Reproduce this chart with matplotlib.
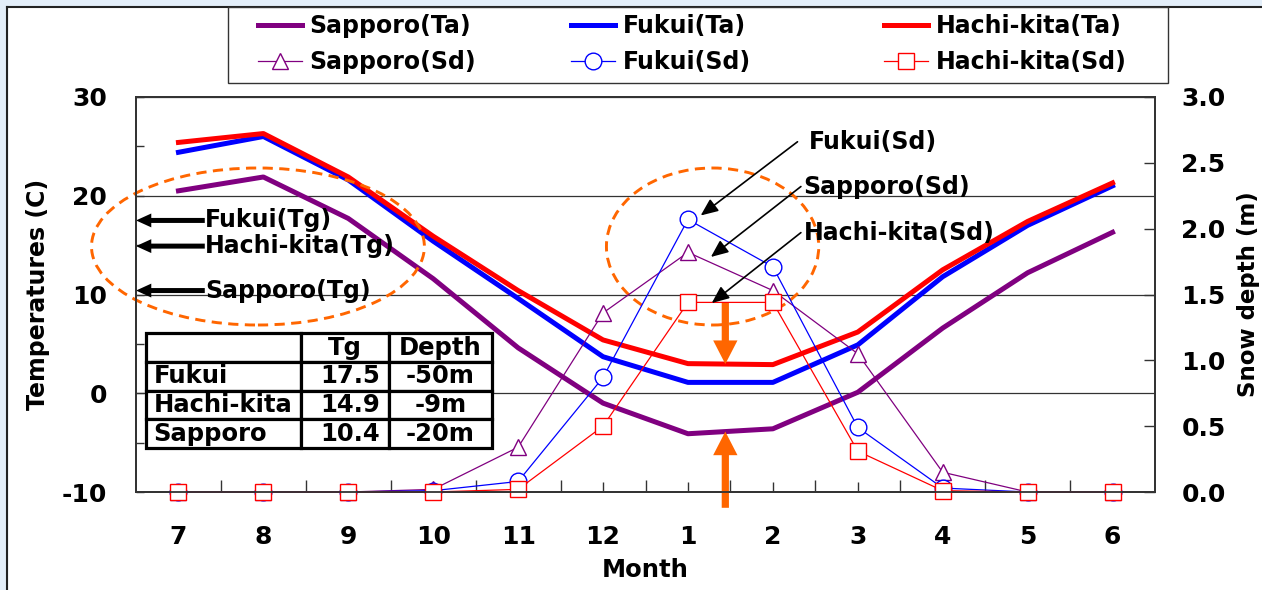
import matplotlib
matplotlib.use("Agg")
import matplotlib.pyplot as plt
from matplotlib.patches import Ellipse, Rectangle
from matplotlib.lines import Line2D
from matplotlib.table import Table
import numpy as np

plt.rcParams["font.family"] = ["DejaVu Sans"]
plt.rcParams["font.weight"] = "bold"
plt.rcParams["axes.labelweight"] = "bold"
plt.rcParams["axes.unicode_minus"] = False

# =========================
# DATA
# =========================

months = ["7", "8", "9", "10", "11", "12", "1", "2", "3", "4", "5", "6"]

sapporo_ta = [20.5, 21.9, 17.7, 11.6, 4.6, -1.0, -4.1, -3.6, 0.1, 6.6, 12.2, 16.3]
fukui_ta = [24.4, 26.0, 21.6, 15.4, 9.6, 3.7, 1.1, 1.1, 4.9, 11.8, 17.0, 21.0]
hachi_ta = [25.4, 26.3, 21.9, 15.9, 10.4, 5.4, 3.0, 2.9, 6.2, 12.5, 17.4, 21.3]

sapporo_sd = [0, 0, 0, 0.02, 0.34, 1.36, 1.82, 1.53, 1.05, 0.15, 0, 0]
fukui_sd = [0, 0, 0, 0.01, 0.08, 0.87, 2.07, 1.71, 0.49, 0.03, 0, 0]
hachi_sd = [0, 0, 0, 0, 0.02, 0.50, 1.44, 1.44, 0.31, 0.01, 0, 0]

sites = ["Fukui", "Hachi-kita", "Sapporo"]
tg = [17.5, 14.9, 10.4]
depth = ["-50m", "-9m", "-20m"]

PURPLE = "#800080"
BLUE = "#0000FF"
RED = "#FF0000"
ORANGE = "#FF6600"

# =========================
# FIGURE SETUP
# =========================

W, H = 1262, 590
fig = plt.figure(figsize=(W / 100, H / 100), dpi=100)
fig.patch.set_facecolor("white")

# slide background strips + border
fig.add_artist(Rectangle((0, 0), 7 / W, 1, transform=fig.transFigure,
                         color="#e3eef9", zorder=0))
fig.add_artist(Rectangle((0, 1 - 6 / H), 1, 6 / H, transform=fig.transFigure,
                         color="#e3eef9", zorder=0))
fig.add_artist(Line2D([7 / W, 1], [1 - 6.5 / H, 1 - 6.5 / H], transform=fig.transFigure,
                      color="#222222", lw=1.5, zorder=0.5))
fig.add_artist(Line2D([7 / W, 7 / W], [0, 1 - 6.5 / H], transform=fig.transFigure,
                      color="#222222", lw=1.5, zorder=0.5))

ax = fig.add_axes([136 / W, 1 - 492 / H, 1019 / W, 395 / H])
ax2 = ax.twinx()

x = np.arange(len(months))

# temperatures (left axis)
l_sap, = ax.plot(x, sapporo_ta, color=PURPLE, lw=3.6, label="Sapporo(Ta)")
l_fuk, = ax.plot(x, fukui_ta, color=BLUE, lw=3.6, label="Fukui(Ta)")
l_hac, = ax.plot(x, hachi_ta, color=RED, lw=3.6, label="Hachi-kita(Ta)")

# snow depth (right axis)
mk = dict(markersize=12, markerfacecolor="white", markeredgewidth=1.0, lw=0.9, clip_on=False)
m_sap, = ax2.plot(x, sapporo_sd, color=PURPLE, marker="^", label="Sapporo(Sd)", **mk)
m_fuk, = ax2.plot(x, fukui_sd, color=BLUE, marker="o", label="Fukui(Sd)", **mk)
m_hac, = ax2.plot(x, hachi_sd, color=RED, marker="s", label="Hachi-kita(Sd)", **mk)

# =========================
# AXES
# =========================

ax.set_xlim(-0.5, len(months) - 0.5)
ax.set_ylim(-10, 30)
ax2.set_ylim(0, 3)

ax.set_xticks(x)
ax.set_xticklabels(months)
ax.set_xticks(np.arange(0.5, len(months) - 1, 1), minor=True)
ax.tick_params(axis="x", which="major", length=0, pad=24, labelsize=18)
ax.tick_params(axis="x", which="minor", direction="in", length=9, width=1, color="#333333")

# short ticks of the hidden secondary category axis
sec = ax.secondary_xaxis("bottom")
sec.set_xticks([5, 6, 7, 8])
sec.tick_params(direction="in", length=7, width=1, color="#333333", labelbottom=False)
sec.spines["bottom"].set_visible(False)

ax.set_yticks([-10, 0, 10, 20, 30])
ax.set_yticks([-5, 5, 15, 25], minor=True)
ax.tick_params(axis="y", which="both", direction="in", length=6, width=1,
               color="#333333", pad=21, labelsize=18)
ax.grid(axis="y", which="major", color="#333333", lw=0.9)

ax2.set_yticks(np.arange(0, 3.01, 0.5))
ax2.set_yticklabels([f"{v:.1f}" for v in np.arange(0, 3.01, 0.5)])
ax2.tick_params(axis="y", direction="in", length=8, width=1, color="#333333",
                pad=19, labelsize=18)

for a in (ax, ax2):
    for s in a.spines.values():
        s.set_color("#333333")
        s.set_linewidth(1.3)

ax.set_xlabel("Month", fontsize=17.5)
ax.xaxis.set_label_coords(0.5, -0.168)
ax.set_ylabel("Temperatures (C)", fontsize=17)
ax.yaxis.set_label_coords(-0.084, 0.5)
ax2.set_ylabel("Snow depth (m)", fontsize=16.5)
ax2.yaxis.set_label_coords(1.0805, 0.5)

# =========================
# ANNOTATIONS
# =========================

# ground temperatures (Tg) arrows to the left axis
for name, t in zip(sites, tg):
    ax.annotate("", xy=(-0.5, t), xytext=(0.31, t),
                arrowprops=dict(arrowstyle="simple,head_length=1.1,head_width=1.0,tail_width=0.36",
                                mutation_scale=10, color="black", lw=0,
                                shrinkA=0, shrinkB=0),
                annotation_clip=False)
    ax.text(0.31, t, f"{name}(Tg)", ha="left", va="center", fontsize=17, zorder=6)

# dashed ellipses
ell_style = dict(fill=False, ec=ORANGE, lw=2.1, ls=(0, (3.5, 2.2)), clip_on=False, zorder=4)
ax.add_patch(Ellipse((0.936, 14.86), 3.92, 15.9, **ell_style))
ax.add_patch(Ellipse((6.29, 14.86), 2.50, 15.9, **ell_style))

# snow depth labels
sd_notes = [
    ("Fukui(Sd)", (6.15, 2.10), (7.29, 2.66), 7.42),
    ("Sapporo(Sd)", (6.27, 1.785), (7.33, 2.32), 7.36),
    ("Hachi-kita(Sd)", (6.28, 1.435), (7.33, 1.97), 7.36),
]
for label, tip, tail, tx in sd_notes:
    ax2.annotate("", xy=tip, xytext=tail,
                 arrowprops=dict(arrowstyle="-|>,head_length=0.7,head_width=0.3",
                                 mutation_scale=15, color="black", lw=1.2,
                                 shrinkA=0, shrinkB=0))
    ax2.text(tx, tail[1], label, ha="left", va="center", fontsize=17)

# thick orange arrows at mid-January
xa = 6.44
big = dict(arrowstyle="simple,head_length=1.7,head_width=1.75,tail_width=0.52",
           mutation_scale=10, color=ORANGE, lw=0, shrinkA=0, shrinkB=0)
ax.annotate("", xy=(xa, np.interp(xa, x, hachi_ta)), xytext=(xa, 9.15),
            arrowprops=big, annotation_clip=False)
ax.annotate("", xy=(xa, np.interp(xa, x, sapporo_ta)), xytext=(xa, -11.6),
            arrowprops=big, annotation_clip=False)

# Tg / depth table
tbl = Table(ax, bbox=[0.0098, 0.111, 0.3395, 0.291])
col_w = [155, 88, 103]
rows = [["", "Tg", "Depth"]] + [[s, f"{t:.1f}", d] for s, t, d in zip(sites, tg, depth)]
for r, row in enumerate(rows):
    for c, val in enumerate(row):
        if r == 0:
            loc = "center"
        else:
            loc = ["left", "right", "center"][c]
        cell = tbl.add_cell(r, c, width=col_w[c], height=1, text=val, loc=loc,
                            facecolor="white", edgecolor="black")
        cell.set_linewidth(2.3)
        if c == 0:
            cell.PAD = 0.05
tbl.auto_set_font_size(False)
tbl.set_fontsize(17.5)
tbl.set_zorder(7)
ax.add_table(tbl)

# =========================
# LEGEND
# =========================

fig.add_artist(Rectangle((228 / W, 1 - 83 / H), 940 / W, 76 / H, transform=fig.transFigure,
                         fc="white", ec="#333333", lw=1.0, zorder=1))

for hx, pair in zip([258, 571, 884], [(l_sap, m_sap), (l_fuk, m_fuk), (l_hac, m_hac)]):
    fig.legend(list(pair), [h.get_label() for h in pair], loc="upper left",
               bbox_to_anchor=(hx / W, 1 - 14 / H), frameon=False, borderpad=0,
               borderaxespad=0, handlelength=1.85, handletextpad=0.33,
               labelspacing=0.5, fontsize=17)

fig.savefig("out.png", dpi=100)
